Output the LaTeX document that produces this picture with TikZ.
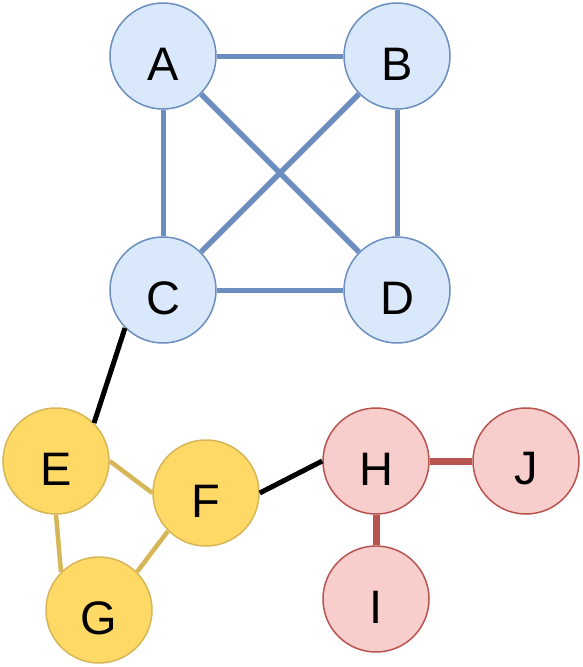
\documentclass[tikz,border=0pt]{standalone}
\usepackage{fontspec}
\setmainfont{Liberation Sans}
\definecolor{bfill}{HTML}{DAE8FC}
\definecolor{bline}{HTML}{6C8EBF}
\definecolor{yfill}{HTML}{FFD966}
\definecolor{yline}{HTML}{D6B656}
\definecolor{rfill}{HTML}{F8CECC}
\definecolor{rline}{HTML}{B85450}
\begin{document}
\begin{tikzpicture}[x=1pt,y=-1pt,
  vtx/.style={circle,minimum size=106pt,inner sep=0pt,line width=1.5pt,
    label={[yshift=-8pt,font=\fontsize{47}{47}\selectfont]center:#1}},
  bv/.style={vtx=#1,draw=bline,fill=bfill},
  yv/.style={vtx=#1,draw=yline,fill=yfill},
  rv/.style={vtx=#1,draw=rline,fill=rfill},
  be/.style={draw=bline,line width=5pt},
  ye/.style={draw=yline,line width=4.5pt},
  ke/.style={draw=black,line width=5pt},
  re/.style={draw=rline,line width=7pt}]
\useasboundingbox (0,0) rectangle (582,667);
\fill[white] (0,0) rectangle (582,667);
\node[bv=A] (A) at (163,56) {};
\node[bv=B] (B) at (397,56) {};
\node[bv=C] (C) at (163,290) {};
\node[bv=D] (D) at (397,290) {};
\node[yv=E] (E) at (56,461) {};
\node[yv=F] (F) at (206,493) {};
\node[yv=G] (G) at (99,610) {};
\node[rv=H] (H) at (376,461) {};
\node[rv=I] (I) at (376,599) {};
\node[rv=J] (J) at (526,461) {};
\draw[be] (A.east) -- (B.west);
\draw[be] (A.south) -- (C.north);
\draw[be] (B.south) -- (D.north);
\draw[be] (C.east) -- (D.west);
\draw[be,line width=5.5pt] (A.315) -- (D.135);
\draw[be,line width=5.5pt] (C.45) -- (B.225);
\draw[ke] (C.225) -- (E.45);
\draw[ke] (F.east) -- (H.west);
\draw[ye] (E.east) -- (F.west);
\draw[ye] (E.south) -- (G.135);
\draw[ye] (F.225) -- (G.45);
\draw[re] (H.east) -- (J.west);
\draw[re] (H.south) -- (I.north);
\end{tikzpicture}
\end{document}
